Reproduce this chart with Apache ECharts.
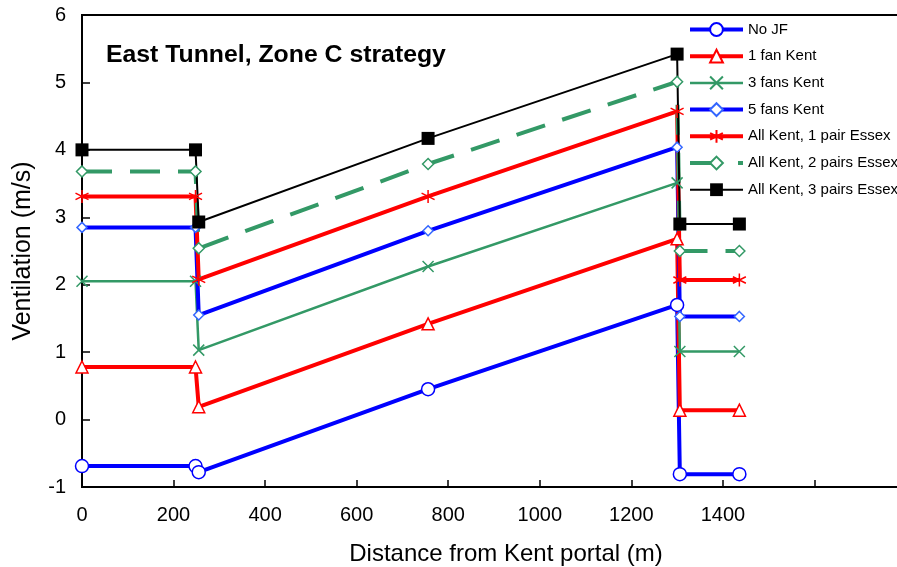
<!DOCTYPE html>
<html><head><meta charset="utf-8">
<script src="https://cdn.jsdelivr.net/npm/echarts@6/dist/echarts.min.js"></script>
<style>html,body{margin:0;padding:0;background:#fff;}#c{width:897px;height:567px;}</style>
</head><body><div id="c"></div>
<script>
var distances = [0, 248, 255, 756, 1300, 1306, 1436];
var seriesNames = ['No JF','1 fan Kent','3 fans Kent','5 fans Kent','All Kent, 1 pair Essex','All Kent, 2 pairs Essex','All Kent, 3 pairs Essex'];
var noJF        = [-0.69, -0.69, -0.78, 0.45, 1.70, -0.81, -0.81];
var fan1Kent    = [0.78, 0.78, 0.19, 1.42, 2.68, 0.14, 0.14];
var fans3Kent   = [2.05, 2.05, 1.03, 2.27, 3.51, 1.01, 1.01];
var fans5Kent   = [2.85, 2.85, 1.55, 2.80, 4.04, 1.53, 1.53];
var allKent1    = [3.31, 3.31, 2.08, 3.31, 4.57, 2.07, 2.07];
var allKent2    = [3.68, 3.68, 2.54, 3.79, 5.01, 2.50, 2.50];
var allKent3    = [4.00, 4.00, 2.93, 4.17, 5.42, 2.90, 2.90];
var xTickLabels = ['0','200','400','600','800','1000','1200','1400'];
var yTickLabels = ['-1','0','1','2','3','4','5','6'];

var FONT = '"Liberation Sans", Arial, Helvetica, sans-serif';
function pts(arr){ return distances.map(function(d,i){ return [d, arr[i]]; }); }
var X_PATH = 'path://M0,0 L10,10 M10,0 L0,10';
var AST_PATH = 'path://M5,0 L5,10 M0.7,2.5 L9.3,7.5 M9.3,2.5 L0.7,7.5';

function mk(name, arr, lineColor, width, symbol, size, fill, border, bw, dash){
  return {
    name: name, type: 'line', data: pts(arr),
    symbol: symbol, symbolSize: size, showAllSymbol: true,
    lineStyle: { color: lineColor, width: width, type: dash || 'solid' },
    itemStyle: { color: fill, borderColor: border, borderWidth: bw },
    color: lineColor,
    emphasis: { disabled: true }
  };
}

var chart = echarts.init(document.getElementById('c'), null, {renderer: 'canvas'});
chart.setOption({
  animation: false,
  backgroundColor: '#fff',
  textStyle: { fontFamily: FONT },
  title: {
    text: 'East Tunnel, Zone C strategy', left: 106, top: 43, padding: 0,
    textStyle: { fontFamily: FONT, fontSize: 24.8, fontWeight: 'bold', color: '#000' }
  },
  grid: { left: 82, right: -9, top: 15, bottom: 80, show: true, borderColor: '#000', borderWidth: 2, backgroundColor: 'transparent', containLabel: false, outerBoundsMode: 'none' },
  legend: {
    orient: 'vertical', left: 688, top: 22, itemWidth: 53, itemHeight: 16, itemGap: 11.7, padding: 0,
    data: seriesNames,
    lineStyle: { width: 'inherit' },
    textStyle: { fontFamily: FONT, fontSize: 15, color: '#000' }
  },
  xAxis: {
    type: 'value', min: 0, max: 1800, interval: 200,
    name: 'Distance from Kent portal (m)', nameLocation: 'middle', nameGap: 55,
    nameTextStyle: { fontFamily: FONT, fontSize: 24, color: '#000', padding: [0, 0, 0, 24] },
    axisLine: { onZero: false, lineStyle: { color: '#000', width: 2 } },
    axisTick: { inside: true, length: 7, lineStyle: { color: '#000', width: 1.5 } },
    axisLabel: { fontFamily: FONT, fontSize: 20, color: '#000', margin: 18,
      formatter: function(v){ var i = Math.round(v/200); return (v <= 1400 && xTickLabels[i] !== undefined) ? xTickLabels[i] : ''; } },
    splitLine: { show: false }
  },
  yAxis: {
    type: 'value', min: -1, max: 6, interval: 1,
    name: 'Ventilation (m/s)', nameLocation: 'middle', nameGap: 46, nameRotate: 90,
    nameTextStyle: { fontFamily: FONT, fontSize: 25, color: '#000' },
    axisLine: { onZero: false, lineStyle: { color: '#000', width: 2 } },
    axisTick: { inside: true, length: 8, lineStyle: { color: '#000', width: 1.5 } },
    axisLabel: { fontFamily: FONT, fontSize: 20, color: '#000', margin: 16,
      formatter: function(v){ return yTickLabels[Math.round(v) + 1]; } },
    splitLine: { show: false }
  },
  series: [
    mk(seriesNames[0], noJF, '#0000ff', 4, 'circle', 13, '#fff', '#0000ff', 1.5),
    mk(seriesNames[1], fan1Kent, '#ff0000', 4, 'triangle', 12, '#fff', '#ff0000', 1.5),
    mk(seriesNames[2], fans3Kent, '#339966', 2.5, X_PATH, 11, '#339966', '#339966', 1.5),
    mk(seriesNames[3], fans5Kent, '#0000ff', 4, 'diamond', 10, '#fff', '#3366ff', 1.5),
    mk(seriesNames[4], allKent1, '#ff0000', 4, AST_PATH, 13, '#ff0000', '#ff0000', 1.5),
    mk(seriesNames[5], allKent2, '#339966', 4, 'diamond', 11, '#fff', '#339966', 1.5, [30, 18]),
    mk(seriesNames[6], allKent3, '#000000', 2, 'rect', 13, '#000', '#000', 0)
  ]
});
</script></body></html>
